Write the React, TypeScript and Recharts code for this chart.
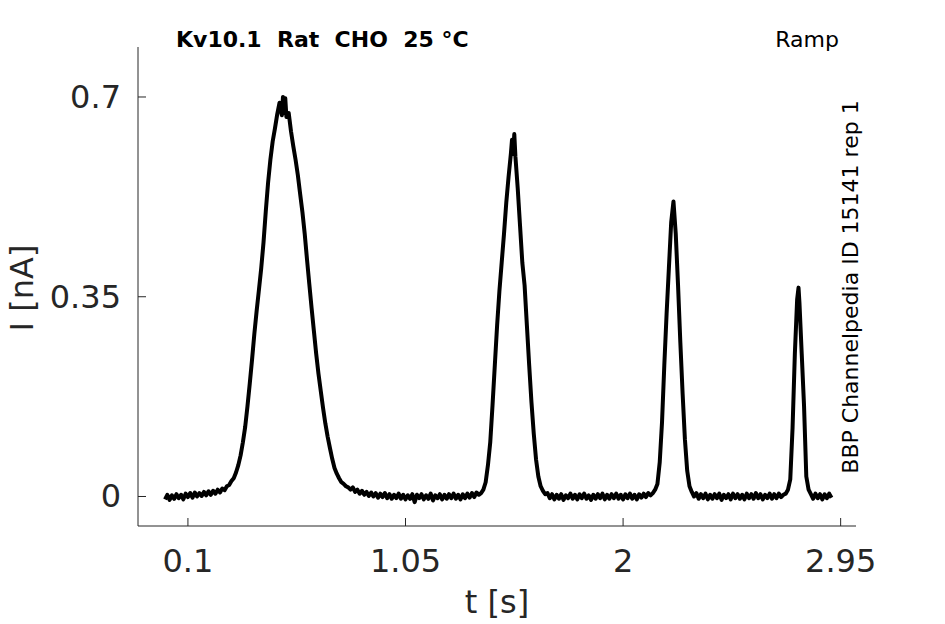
import React from "react";
import { LineChart, Line, XAxis, YAxis } from "recharts";

// [t (s), I (nA)]
const baselineStart: [number, number][] = [
  [0.0, -0.005], [0.01, 0.003], [0.02, -0.006], [0.03, 0.002], [0.04, -0.004], [0.05, 0.004],
  [0.06, -0.003], [0.07, 0.003], [0.08, -0.005], [0.09, 0.005], [0.1, -0.001], [0.11, 0.006],
  [0.12, -0.002], [0.13, 0.007], [0.14, 0.0], [0.15, 0.006], [0.16, 0.001], [0.17, 0.008],
  [0.18, 0.002], [0.19, 0.009], [0.2, 0.003], [0.21, 0.01], [0.22, 0.005], [0.23, 0.012],
  [0.24, 0.007], [0.25, 0.014], [0.26, 0.011], [0.27, 0.018], [0.28, 0.02], [0.29, 0.027],
  [0.3, 0.032],
];
const peak1: [number, number][] = [
  [0.31, 0.042], [0.32, 0.055], [0.33, 0.072], [0.34, 0.095], [0.35, 0.122], [0.36, 0.158],
  [0.37, 0.198], [0.38, 0.24], [0.39, 0.285], [0.4, 0.325], [0.41, 0.362], [0.42, 0.4],
  [0.43, 0.445], [0.44, 0.5], [0.45, 0.55], [0.46, 0.59], [0.47, 0.622], [0.48, 0.645],
  [0.49, 0.67], [0.5, 0.69], [0.51, 0.668], [0.515, 0.7], [0.52, 0.672], [0.525, 0.698],
  [0.53, 0.665], [0.54, 0.672], [0.55, 0.64], [0.56, 0.614], [0.57, 0.59], [0.58, 0.563],
  [0.59, 0.53], [0.6, 0.498], [0.61, 0.46], [0.62, 0.415], [0.63, 0.372], [0.64, 0.33],
  [0.65, 0.29], [0.66, 0.25], [0.67, 0.215], [0.68, 0.185], [0.69, 0.155], [0.7, 0.128],
  [0.71, 0.105], [0.72, 0.085], [0.73, 0.066], [0.74, 0.05], [0.75, 0.04], [0.76, 0.032],
  [0.77, 0.025], [0.78, 0.022], [0.79, 0.018], [0.8, 0.016],
];
const baseline2: [number, number][] = [
  [0.81, 0.012], [0.82, 0.016], [0.83, 0.008], [0.84, 0.012], [0.85, 0.005], [0.86, 0.01],
  [0.87, 0.003], [0.88, 0.008], [0.89, 0.001], [0.9, 0.007], [0.91, 0.0], [0.92, 0.006],
  [0.93, -0.002], [0.94, 0.005], [0.95, -0.001], [0.96, 0.006], [0.97, -0.003], [0.98, 0.004],
  [0.99, -0.004], [1.0, 0.003], [1.01, -0.003], [1.02, 0.005], [1.03, -0.004], [1.04, 0.003],
  [1.05, -0.005], [1.06, 0.002], [1.07, -0.004], [1.08, 0.004], [1.09, -0.01], [1.1, 0.003],
  [1.11, -0.003], [1.12, 0.004], [1.13, -0.005], [1.14, 0.002], [1.15, -0.004], [1.16, 0.005],
  [1.17, -0.007], [1.18, 0.002], [1.19, -0.003], [1.2, 0.004], [1.21, -0.005], [1.22, 0.003],
  [1.23, -0.004], [1.24, 0.004], [1.25, -0.003], [1.26, 0.005], [1.27, -0.004], [1.28, 0.003],
  [1.29, -0.005], [1.3, 0.004], [1.31, -0.003], [1.32, 0.005], [1.33, -0.002], [1.34, 0.006],
  [1.35, -0.001], [1.36, 0.007], [1.37, 0.003],
];
const peak2: [number, number][] = [
  [1.38, 0.006], [1.39, 0.012], [1.4, 0.025], [1.41, 0.055], [1.42, 0.095], [1.43, 0.16],
  [1.44, 0.23], [1.45, 0.3], [1.46, 0.36], [1.47, 0.41], [1.48, 0.46], [1.49, 0.515],
  [1.5, 0.56], [1.51, 0.6], [1.515, 0.625], [1.52, 0.6], [1.525, 0.635], [1.53, 0.595],
  [1.54, 0.54], [1.55, 0.475], [1.56, 0.41], [1.57, 0.37], [1.58, 0.3], [1.59, 0.23],
  [1.6, 0.165], [1.61, 0.11], [1.62, 0.065], [1.63, 0.035], [1.64, 0.018], [1.65, 0.01],
  [1.66, 0.004],
];
const baseline3: [number, number][] = [
  [1.67, 0.006], [1.68, -0.003], [1.69, 0.004], [1.7, -0.005], [1.71, 0.003], [1.72, -0.004],
  [1.73, 0.004], [1.74, -0.006], [1.75, 0.002], [1.76, -0.003], [1.77, 0.005], [1.78, -0.004],
  [1.79, 0.003], [1.8, -0.005], [1.81, 0.004], [1.82, -0.003], [1.83, 0.005], [1.84, -0.004],
  [1.85, 0.002], [1.86, -0.006], [1.87, 0.003], [1.88, -0.004], [1.89, 0.004], [1.9, -0.003],
  [1.91, 0.005], [1.92, -0.005], [1.93, 0.003], [1.94, -0.004], [1.95, 0.004], [1.96, -0.003],
  [1.97, 0.005], [1.98, -0.004], [1.99, 0.003], [2.0, -0.005], [2.01, 0.004], [2.02, -0.003],
  [2.03, 0.005], [2.04, -0.004], [2.05, 0.003], [2.06, -0.005], [2.07, 0.004], [2.08, -0.002],
  [2.09, 0.005], [2.1, -0.001], [2.11, 0.006], [2.12, 0.002],
];
const peak3: [number, number][] = [
  [2.13, 0.006], [2.14, 0.012], [2.15, 0.022], [2.16, 0.06], [2.17, 0.13], [2.18, 0.23],
  [2.19, 0.32], [2.2, 0.4], [2.21, 0.48], [2.22, 0.517], [2.23, 0.46], [2.24, 0.37],
  [2.25, 0.27], [2.26, 0.18], [2.27, 0.1], [2.28, 0.045], [2.29, 0.018], [2.3, 0.008],
];
const baseline4: [number, number][] = [
  [2.31, 0.0], [2.32, 0.006], [2.33, -0.004], [2.34, 0.004], [2.35, -0.003], [2.36, 0.005],
  [2.37, -0.005], [2.38, 0.003], [2.39, -0.004], [2.4, 0.004], [2.41, -0.003], [2.42, 0.005],
  [2.43, -0.006], [2.44, 0.003], [2.45, -0.003], [2.46, 0.004], [2.47, -0.005], [2.48, 0.005],
  [2.49, -0.003], [2.5, 0.004], [2.51, -0.004], [2.52, 0.003], [2.53, -0.005], [2.54, 0.005],
  [2.55, -0.003], [2.56, 0.004], [2.57, -0.004], [2.58, 0.006], [2.59, -0.003], [2.6, 0.004],
  [2.61, -0.005], [2.62, 0.003], [2.63, -0.003], [2.64, 0.005], [2.65, -0.004], [2.66, 0.004],
  [2.67, -0.003], [2.68, 0.005], [2.69, -0.001], [2.7, 0.003],
];
const peak4: [number, number][] = [
  [2.71, 0.005], [2.72, 0.012], [2.73, 0.03], [2.74, 0.12], [2.75, 0.25], [2.76, 0.345],
  [2.766, 0.366], [2.77, 0.34], [2.78, 0.25], [2.79, 0.16], [2.8, 0.035], [2.81, 0.012],
  [2.82, 0.004],
];
const baselineEnd: [number, number][] = [
  [2.83, -0.004], [2.84, 0.005], [2.85, -0.003], [2.86, 0.004], [2.87, -0.005], [2.88, 0.004],
  [2.89, -0.003], [2.9, 0.005], [2.91, -0.002],
];

const xTicks = [0.1, 1.05, 2, 2.95];
const yTicks = [0, 0.35, 0.7];

const segments = [baselineStart, peak1, baseline2, peak2, baseline3, peak3, baseline4, peak4, baselineEnd];
const rows = segments.flat().map(([t, i]) => ({ t, i }));

const AXIS = "#262626";
const FONT = "'DejaVu Sans', sans-serif";

const XTick = (props: any) => {
  const { x, y, payload } = props;
  return (
    <g>
      <line x1={x} y1={y} x2={x} y2={y - 8} stroke={AXIS} strokeWidth={1} />
      <text x={x} y={y + 46} textAnchor="middle" fontSize={32} fill={AXIS} fontFamily={FONT}>
        {payload.value}
      </text>
    </g>
  );
};

const YTick = (props: any) => {
  const { x, y, payload } = props;
  return (
    <g>
      <line x1={x} y1={y} x2={x + 8} y2={y} stroke={AXIS} strokeWidth={1} />
      <text x={x - 17} y={y + 11} textAnchor="end" fontSize={32} fill={AXIS} fontFamily={FONT}>
        {payload.value}
      </text>
    </g>
  );
};

export default function App() {
  return (
    <div style={{ position: "absolute", left: 0, top: 0, width: 945, height: 624, background: "#fff" }}>
      <LineChart width={945} height={624} data={rows} margin={{ top: 47, right: 89, left: 0, bottom: 0 }}>
        <XAxis
          dataKey="t"
          type="number"
          domain={[-0.118, 3.017]}
          ticks={xTicks}
          allowDataOverflow
          height={98}
          tickSize={0}
          tickMargin={0}
          tickLine={false}
          tick={<XTick />}
          axisLine={{ stroke: AXIS, strokeWidth: 1 }}
          interval={0}
        />
        <YAxis
          dataKey="i"
          type="number"
          domain={[-0.0517, 0.7876]}
          ticks={yTicks}
          allowDataOverflow
          width={138}
          tickSize={0}
          tickMargin={0}
          tickLine={false}
          tick={<YTick />}
          axisLine={{ stroke: AXIS, strokeWidth: 1 }}
          interval={0}
        />
        <Line
          dataKey="i"
          type="linear"
          stroke="#000"
          strokeWidth={4}
          dot={false}
          isAnimationActive={false}
          strokeLinejoin="round"
        />
        <text x={176} y={47} fontSize={22} fontWeight="bold" fill="#000" fontFamily={FONT} style={{ whiteSpace: "pre" }}>
          {"Kv10.1  Rat  CHO  25 °C"}
        </text>
        <text x={839} y={47} fontSize={22} textAnchor="end" fill="#000" fontFamily={FONT}>
          Ramp
        </text>
        <text
          x={858}
          y={287}
          fontSize={22}
          textAnchor="middle"
          fill="#000"
          fontFamily={FONT}
          transform="rotate(-90 858 287)"
        >
          BBP Channelpedia ID 15141 rep 1
        </text>
        <text
          x={33}
          y={288}
          fontSize={32}
          textAnchor="middle"
          fill={AXIS}
          fontFamily={FONT}
          transform="rotate(-90 33 288)"
        >
          I [nA]
        </text>
        <text x={497} y={613} fontSize={32} textAnchor="middle" fill={AXIS} fontFamily={FONT}>
          t [s]
        </text>
      </LineChart>
    </div>
  );
}
